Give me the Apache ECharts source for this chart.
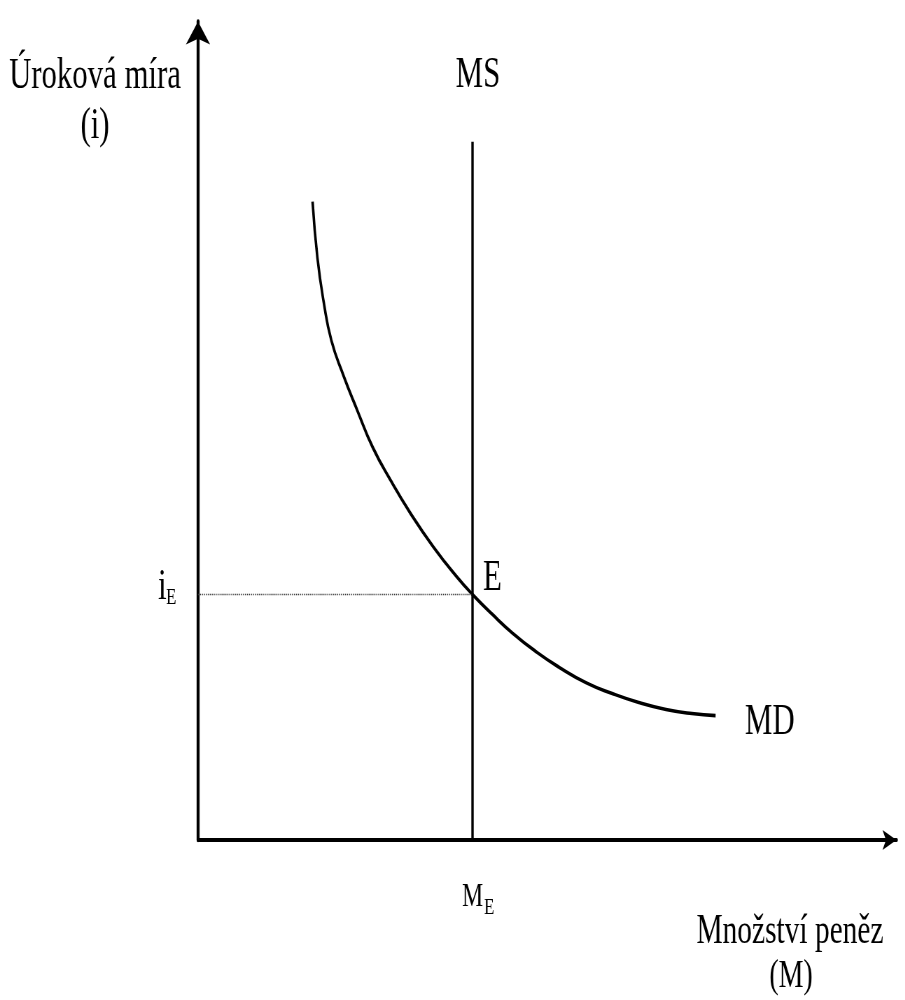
<!DOCTYPE html>
<html>
<head>
<meta charset="utf-8">
<title>MS / MD</title>
<script src="https://cdn.jsdelivr.net/npm/echarts@6/dist/echarts.min.js"></script>
<style>
    html, body { margin: 0; padding: 0; background: #fff; overflow: hidden; }
    /* the text in the original is narrow, so draw wide and squeeze horizontally */
    #chart { width: 1293px; height: 1000px; transform: scaleX(0.7); transform-origin: 0 0; }
</style>
</head>
<body>
<div id="chart"></div>
<script>
// křivka poptávky po penězích (MD)
const mdX = [16.4, 17.1, 18.0, 19.1, 20.8, 22.8, 25.0, 27.6, 30.5, 33.7, 37.0, 39.3,
    42.1, 45.0, 48.4, 51.7, 55.6, 59.3, 63.1, 67.0, 70.7, 74.1];
const mdY = [78.0, 71.1, 65.7, 61.0, 56.8, 52.5, 48.0, 43.9, 39.8, 35.8, 32.2, 30.0,
    27.6, 25.3, 23.0, 21.1, 19.2, 17.9, 16.8, 15.95, 15.45, 15.2];

// nabídka peněz (MS) a rovnováha E
const mE = 39.3;
const iE = 30.0;
const msTop = 85.3;

const SX = 0.7; // horizontal squeeze of the div
const FONT = 'Liberation Serif';

function txt(text, x, y, size, align) {
    return {
        type: 'text',
        x: x / SX,
        y: y,
        style: {
            text: text,
            fontSize: size,
            fontFamily: FONT,
            fill: '#000',
            align: align || 'center',
            verticalAlign: 'middle'
        }
    };
}

const chart = echarts.init(document.getElementById('chart'), null, { renderer: 'canvas' });

const option = {
    animation: false,
    backgroundColor: '#fff',
    grid: { left: 198 / SX, right: 1293 - 896.5 / SX, top: 21.5, bottom: 160 },
    xAxis: {
        type: 'value',
        min: 0,
        max: 100,
        axisLine: {
            show: true,
            symbol: ['none', 'arrow'],
            symbolSize: [15, 20],
            lineStyle: { color: '#000', width: 4 }
        },
        axisTick: { show: false },
        axisLabel: { show: false },
        splitLine: { show: false }
    },
    yAxis: {
        type: 'value',
        min: 0,
        max: 100,
        axisLine: {
            show: true,
            symbol: ['none', 'arrow'],
            symbolSize: [26, 23],
            lineStyle: { color: '#000', width: 4.3 }
        },
        axisTick: { show: false },
        axisLabel: { show: false },
        splitLine: { show: false }
    },
    series: [
        {
            name: 'MD',
            type: 'line',
            smooth: 0.5,
            showSymbol: false,
            data: mdX.map((x, i) => [x, mdY[i]]),
            lineStyle: { color: '#000', width: 3.6 }
        },
        {
            name: 'MS',
            type: 'line',
            showSymbol: false,
            data: [[mE, 0], [mE, msTop]],
            lineStyle: { color: '#000', width: 3.4 }
        },
        {
            name: 'iE',
            type: 'line',
            showSymbol: false,
            data: [[0, iE], [mE, iE]],
            lineStyle: { color: '#333', width: 1.4, type: 'dotted' }
        }
    ],
    graphic: [
        txt('Úroková míra', 95, 76, 44),
        txt('(i)', 95, 126, 44),
        txt('MS', 478, 75, 44),
        txt('E', 483, 578, 44, 'left'),
        txt('MD', 745, 722, 44, 'left'),
        txt('i', 158, 587, 44, 'left'),
        txt('E', 166, 598, 24, 'left'),
        txt('M', 462, 897, 34, 'left'),
        txt('E', 484, 908, 24, 'left'),
        txt('Množství peněz', 790, 932, 42),
        txt('(M)', 791, 976, 40)
    ]
};

chart.setOption(option);
</script>
</body>
</html>
